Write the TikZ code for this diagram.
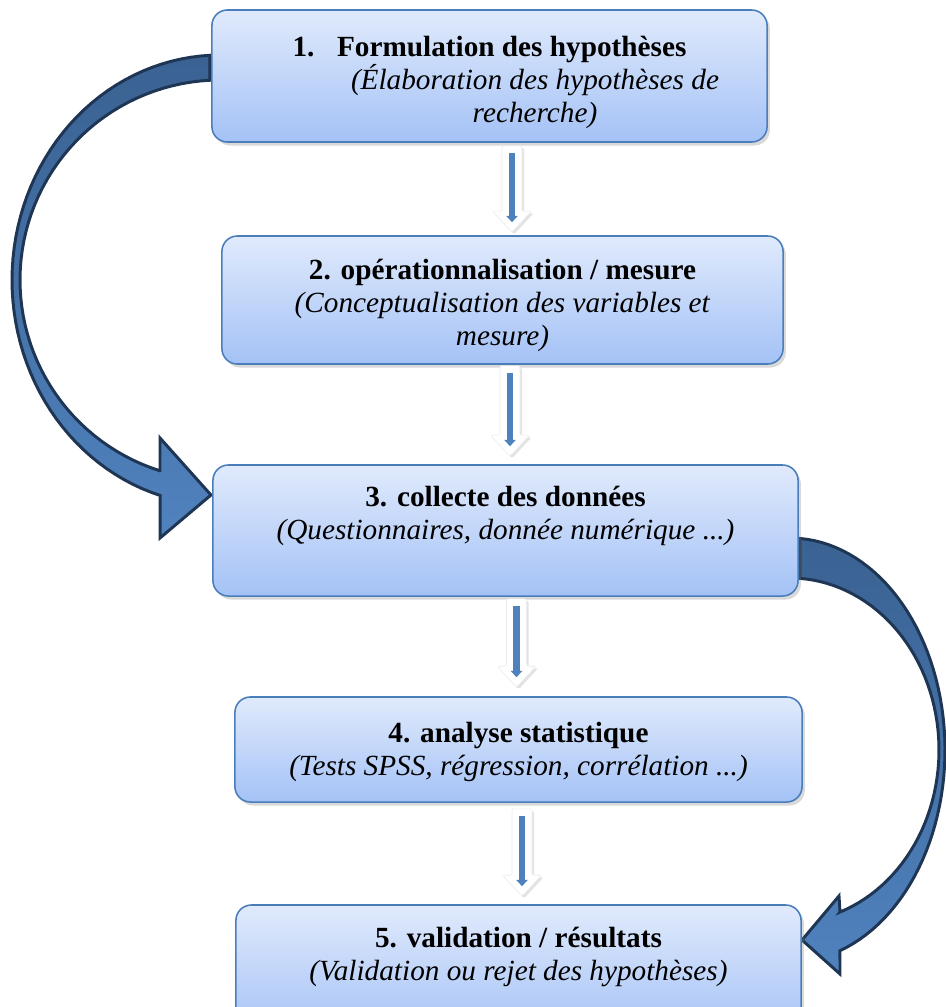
\documentclass[tikz,border=0pt]{standalone}
\usepackage{fontspec}
\setmainfont{Liberation Serif}
\usetikzlibrary{calc,arrows.meta,shadows,backgrounds}
\definecolor{boxtop}{RGB}{224,234,252}
\definecolor{boxbottom}{RGB}{164,194,246}
\definecolor{boxline}{RGB}{74,126,187}
\definecolor{bandtop}{RGB}{58,98,146}
\definecolor{bandbottom}{RGB}{80,130,190}
\definecolor{bandline}{RGB}{31,53,84}
\definecolor{shaftblue}{RGB}{79,129,189}
\newcommand{\bandwidth}{2.1pt}
\newcommand{\indentline}{\hspace*{64.7pt}}
% white block arrow from (#1) down to its tip (#2), blue shaft inside
\newcommand{\steparrow}[2]{%
\draw[stepshape] ($(#1)+(-10,0)$) -- ($(#2)+(-10,-21)$) -- ($(#2)+(-19.5,-21)$) -- (#2)
  -- ($(#2)+(19.5,-21)$) -- ($(#2)+(10,-21)$) -- ($(#1)+(10,0)$) -- cycle;
\draw[stepshaft] ($(#1)+(0,7)$) -- ($(#2)+(0,-10)$);}

\begin{document}
\begin{tikzpicture}[x=0.025cm, y=-0.025cm,
  stage/.style={draw=boxline, line width=1.1pt, rounded corners=11pt,
    top color=boxtop, bottom color=boxbottom,
    drop shadow={shadow xshift=2pt, shadow yshift=-2.5pt, opacity=0.3},
    align=center, inner sep=0pt, font=\fontsize{20.8}{23.5}\selectfont,
    text height=#1},
  band/.style={draw=bandline, line width=\bandwidth, top color=bandtop, bottom color=bandbottom},
  stepshape/.style={fill=white, draw=black!8, line width=0.4pt, rounded corners=1.5pt,
    drop shadow={shadow xshift=1.5pt, shadow yshift=-1.5pt, opacity=0.22}},
  stepshaft/.style={draw=shaftblue, line width=4.3pt, -{Triangle[width=8pt, length=4.5pt]}}]
\path[use as bounding box, clip] (0,0) rectangle (946,1007);
\node[stage=70.1pt, minimum width=13.875cm, minimum height=3.3cm] (1) at (489.5, 76)
  {\textbf{1.\hspace{16pt}Formulation des hypothèses}\\
   \indentline\textit{(Élaboration des hypothèses de}\\
   \indentline\textit{recherche)}};
\node[stage=69.3pt, minimum width=14.025cm, minimum height=3.2cm] (2) at (502.5, 300)
  {\textbf{2. opérationnalisation / mesure}\\
   \textit{(Conceptualisation des variables et}\\
   \textit{mesure)}};
\node[stage=60.1pt, minimum width=14.625cm, minimum height=3.275cm] (3) at (505.5, 530.5)
  {\textbf{3. collecte des données}\\
   \textit{(Questionnaires, donnée numérique ...)}\\ };
\node[stage=40.8pt, minimum width=14.175cm, minimum height=2.625cm] (4) at (518.5, 749.5)
  {\textbf{4. analyse statistique}\\
   \textit{(Tests SPSS, régression, corrélation ...)}};
\node[stage=60.8pt, minimum width=14.125cm, minimum height=3.275cm] (5) at (518.5, 970.5)
  {\textbf{5. validation / résultats}\\
   \textit{(Validation ou rejet des hypothèses)}\\ };
%step arrows
\coordinate (s1) at ($(1.south)+(22.5,3)$);
\coordinate (t1) at ($(2.north)+(9.5,-3)$);
\coordinate (s2) at ($(2.south)+(7.5,1)$);
\coordinate (t2) at ($(3.north)+(4.5,-8)$);
\coordinate (s3) at ($(3.south)+(11,2)$);
\coordinate (t3) at ($(4.north)+(-2,-9)$);
\coordinate (s4) at ($(4.south)+(3.5,6)$);
\coordinate (t4) at ($(5.north)+(3.5,-8)$);
\steparrow{s1}{t1}
\steparrow{s2}{t2}
\steparrow{s3}{t3}
\steparrow{s4}{t4}
%back to 3
\begin{scope}[on background layer]
\draw[band] plot[domain=92.8:253.3, samples=60] ({220+208*cos(\x)}, {280-225*sin(\x)})
  -- (160,538) -- (211,495) -- (160,438) -- (160,470.7)
  -- plot[domain=252.5:92.9, samples=60] ({220+200*cos(\x)}, {280-200*sin(\x)}) -- cycle;
\end{scope}
%on to 5
\begin{scope}[on background layer]
\draw[band] plot[domain=86.3:-71.2, samples=60] ({790+155*cos(\x)}, {750-212*sin(\x)})
  -- (840,974) -- (802,940) -- (839,896) -- (840,912)
  -- plot[domain=-70.4:86.2, samples=60] ({790+149*cos(\x)}, {750-172*sin(\x)}) -- cycle;
\end{scope}
\end{tikzpicture}
\end{document}
